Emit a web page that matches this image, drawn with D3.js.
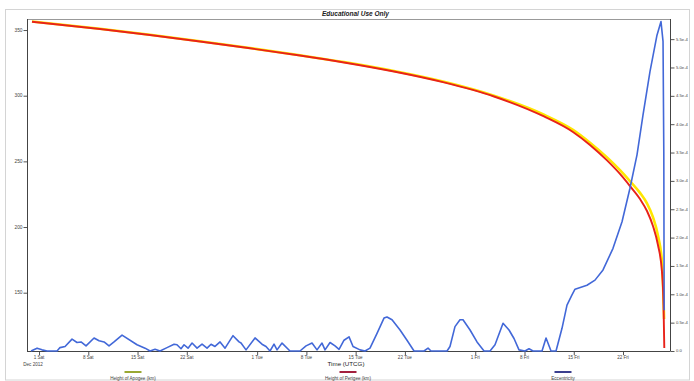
<!DOCTYPE html>
<html><head><meta charset="utf-8">
<script src="https://cdn.jsdelivr.net/npm/d3@7"></script>
<style>body{margin:0;background:#fff}svg{display:block;font-family:"Liberation Sans",Arial,sans-serif}</style>
</head><body><svg id="c" width="694" height="381"></svg>
<script>
// ---- data (days after 2012-12-01 00:00 UTC) ----
const perigeeDays = [-1.00, 8.67, 15.77, 22.88, 29.99, 37.09, 43.35, 50.45, 57.56, 64.67, 71.77, 75.89, 78.31, 80.73, 82.57, 83.99, 85.42, 86.41, 87.26, 87.97, 88.54, 88.76, 88.87];
const perigeeKm   = [356.3, 350.8, 346.2, 341.3, 336.1, 330.6, 325.3, 318.4, 310.1, 299.4, 284.2, 272.4, 262.5, 250.7, 240.4, 231.2, 221.3, 212.2, 200.8, 186.3, 165.8, 140.6, 107.9];
const apogeeDays  = [-1.00, 8.67, 15.77, 22.88, 29.99, 37.09, 43.35, 50.45, 57.56, 64.67, 71.77, 75.89, 78.31, 80.73, 82.57, 83.99, 85.42, 86.41, 87.26, 87.97, 88.54, 88.74, 88.84];
const apogeeKm    = [356.5, 351.0, 346.4, 341.5, 336.3, 330.8, 325.6, 318.8, 310.6, 300.0, 285.5, 274.0, 264.2, 253.0, 243.3, 235.0, 226.0, 218.0, 207.5, 193.5, 173.5, 148.0, 130.0];
const eccDays = [-1.14,-0.28,0.43,1.14,2.56,2.98,3.70,4.69,5.40,5.97,6.68,7.82,8.53,9.24,9.95,10.66,11.80,13.93,15.07,15.78,16.49,17.20,18.19,19.19,19.61,20.18,20.61,21.18,21.75,22.46,23.17,23.88,24.45,25.01,25.73,26.44,27.57,28.43,28.71,29.42,30.70,31.69,32.26,32.83,33.40,33.83,34.54,35.67,37.09,37.95,38.80,39.51,40.22,40.65,41.36,42.07,42.64,43.35,44.06,44.63,45.62,46.33,47.04,48.04,49.03,49.46,50.17,51.31,52.30,53.30,54.72,55.29,55.71,57.99,58.41,59.12,59.83,60.26,61.26,62.25,63.25,64.10,64.81,65.95,66.80,67.51,68.22,69.07,69.64,70.21,71.49,72.06,72.77,73.48,74.33,75.04,75.75,76.18,77.88,79.02,80.16,81.58,82.86,83.99,84.99,85.84,86.84,87.83,88.40,88.69,88.80,88.85];
const eccValues = [0,0.05e-4,0.02e-4,0,0,0.06e-4,0.08e-4,0.21e-4,0.15e-4,0.16e-4,0.09e-4,0.23e-4,0.18e-4,0.16e-4,0.09e-4,0.16e-4,0.28e-4,0.11e-4,0.05e-4,0,0.03e-4,0,0.06e-4,0.12e-4,0.11e-4,0.04e-4,0.11e-4,0.05e-4,0.14e-4,0.05e-4,0.12e-4,0.05e-4,0.12e-4,0.08e-4,0.16e-4,0.05e-4,0.27e-4,0.16e-4,0.14e-4,0.02e-4,0.23e-4,0.12e-4,0.08e-4,0,0.12e-4,0.02e-4,0.14e-4,0,0,0.09e-4,0.14e-4,0.02e-4,0.14e-4,0.02e-4,0.15e-4,0.09e-4,0.03e-4,0.19e-4,0.25e-4,0.08e-4,0.02e-4,0,0.05e-4,0.31e-4,0.58e-4,0.60e-4,0.55e-4,0.37e-4,0.19e-4,0,0,0.05e-4,0,0,0.08e-4,0.43e-4,0.55e-4,0.55e-4,0.37e-4,0.16e-4,0,0,0.11e-4,0.49e-4,0.37e-4,0.22e-4,0.02e-4,0,0.04e-4,0,0,0.23e-4,0,0,0.40e-4,0.81e-4,0.99e-4,1.09e-4,1.16e-4,1.25e-4,1.43e-4,1.81e-4,2.28e-4,2.87e-4,3.46e-4,4.16e-4,4.93e-4,5.57e-4,5.81e-4,5.46e-4,3.5e-4,0.72e-4];
const xTickDates  = ["2012-12-01","2012-12-08","2012-12-15","2012-12-22","2013-01-01","2013-01-08","2013-01-15","2013-01-22","2013-02-01","2013-02-08","2013-02-15","2013-02-22"];
const xTickLabels = ["1 Sat","8 Sat","15 Sat","22 Sat","1 Tue","8 Tue","15 Tue","22 Tue","1 Fri","8 Fri","15 Fri","22 Fri"];
const leftTicks  = [150, 200, 250, 300, 350];
const rightTicks = [0, 0.5e-4, 1.0e-4, 1.5e-4, 2.0e-4, 2.5e-4, 3.0e-4, 3.5e-4, 4.0e-4, 4.5e-4, 5.0e-4, 5.5e-4];
const legendLabels = ["Height of Apogee (km)", "Height of Perigee (km)", "Eccentricity"];
const titleText = "Educational Use Only";
const xAxisTitle = "Time (UTCG)";

// ---- chart ----
const base = Date.UTC(2012, 11, 1);
const dayToDate = d => new Date(base + d * 864e5);
const svg = d3.select("#c");
const L = 27, R = 670, T = 19, B = 351;

const x = d3.scaleUtc().domain([dayToDate(-1.71), dayToDate(89.68)]).range([L, R]);
const yL = d3.scaleLinear().domain([105.6, 358.4]).range([B, T]);
const yR = d3.scaleLinear().domain([0, 5.855e-4]).range([B, T]);

// tiny text drawn at 4x size and scaled down (avoids any minimum font size clamp)
function tiny(px, py, str, size, anchor, opts = {}) {
  const s = 0.25;
  const t = svg.append("text")
    .attr("transform", `translate(${px},${py}) scale(${s})`)
    .attr("font-size", size / s).attr("text-anchor", anchor || "start")
    .attr("fill", opts.fill || "#444").text(str);
  if (opts.dy) t.attr("dy", opts.dy);
  return t;
}

// outer frame
svg.append("rect").attr("x", 5.5).attr("y", 9.5).attr("width", 684).attr("height", 370.5)
  .attr("fill", "none").attr("stroke", "#d4d4d4");

// plot top border
svg.append("line").attr("x1", L).attr("x2", R).attr("y1", T + 0.5).attr("y2", T + 0.5).attr("stroke", "#999");

// title
svg.append("text").attr("x", 355.5).attr("y", 15.5).attr("text-anchor", "middle")
  .attr("font-size", 7).attr("font-weight", "bold").attr("font-style", "italic")
  .attr("textLength", 67).attr("lengthAdjust", "spacingAndGlyphs").attr("fill", "#222").text(titleText);

const tickCol = "#555";
// left axis
const gL = svg.append("g").attr("transform", `translate(${L + 0.5},0)`);
gL.call(d3.axisLeft(yL).tickValues(d3.range(110, 351, 10)).tickSize(3).tickFormat(""));
gL.call(d3.axisLeft(yL).tickValues(leftTicks).tickSize(4).tickFormat(""));
gL.selectAll(".domain").remove();
gL.selectAll("line").attr("stroke", tickCol);
leftTicks.forEach(v => tiny(22.5, yL(v), d3.format("d")(v), 4.8, "end", { dy: "0.35em" }));
svg.append("line").attr("x1", L + 0.5).attr("x2", L + 0.5).attr("y1", T).attr("y2", B).attr("stroke", "#444");

// right axis
const fmtR = v => v === 0 ? "0.0" : (v / 1e-4).toFixed(1) + "e-4";
const gR = svg.append("g").attr("transform", `translate(${R + 0.5},0)`);
gR.call(d3.axisRight(yR).tickValues(d3.range(0, 58).map(i => i * 0.1e-4)).tickSize(2.5).tickFormat(""));
gR.call(d3.axisRight(yR).tickValues(rightTicks).tickSize(4).tickFormat(""));
gR.selectAll(".domain").remove();
gR.selectAll("line").attr("stroke", tickCol);
rightTicks.forEach(v => tiny(676, yR(v), fmtR(v), 4.2, "start", { dy: "0.35em" }));
svg.append("line").attr("x1", R + 0.5).attr("x2", R + 0.5).attr("y1", T).attr("y2", B).attr("stroke", "#444");

// bottom axis
const xDates = xTickDates.map(s => new Date(s + "T00:00:00Z"));
const gB = svg.append("g").attr("transform", `translate(0,${B + 0.5})`);
gB.call(d3.axisBottom(x).ticks(d3.utcDay.every(1)).tickSize(2.5).tickFormat(""));
gB.call(d3.axisBottom(x).tickValues(xDates).tickSize(3.5).tickFormat(""));
gB.selectAll(".domain").remove();
gB.selectAll("line").attr("stroke", tickCol);
xDates.forEach((d, i) => tiny(x(d), 359, xTickLabels[i], 4.6, "middle"));
svg.append("line").attr("x1", L).attr("x2", R + 0.5).attr("y1", B + 0.5).attr("y2", B + 0.5).attr("stroke", "#444");
tiny(x(xDates[0]) - 6, 365.5, "Dec 2012", 4.6, "middle");

// axis title
tiny(346, 366, xAxisTitle, 6.2, "middle", { fill: "#222" });

// series
const lineL = d3.line().x(d => x(dayToDate(d[0]))).y(d => yL(d[1])).curve(d3.curveMonotoneX);
const lineR = d3.line().x(d => x(dayToDate(d[0]))).y(d => yR(d[1]));
svg.append("path").datum(d3.zip(apogeeDays, apogeeKm)).attr("d", lineL)
  .attr("fill", "none").attr("stroke", "#ffe600").attr("stroke-width", 2.6);
svg.append("path").datum(d3.zip(perigeeDays, perigeeKm)).attr("d", lineL)
  .attr("fill", "none").attr("stroke", "#e8221a").attr("stroke-width", 1.9);
svg.append("path").datum(d3.zip(eccDays, eccValues)).attr("d", lineR)
  .attr("fill", "none").attr("stroke", "#4268d8").attr("stroke-width", 1.6).attr("stroke-linejoin", "round");

// legend
const legX = [133, 348, 563];
const legCol = ["#9aa832", "#a3203e", "#3b3f8e"];
legendLabels.forEach((lab, i) => {
  svg.append("line").attr("x1", legX[i] - 8.5).attr("x2", legX[i] + 8.5).attr("y1", 372).attr("y2", 372)
    .attr("stroke", legCol[i]).attr("stroke-width", 2);
  tiny(legX[i], 379.5, lab, 4.6, "middle");
});
</script></body></html>
